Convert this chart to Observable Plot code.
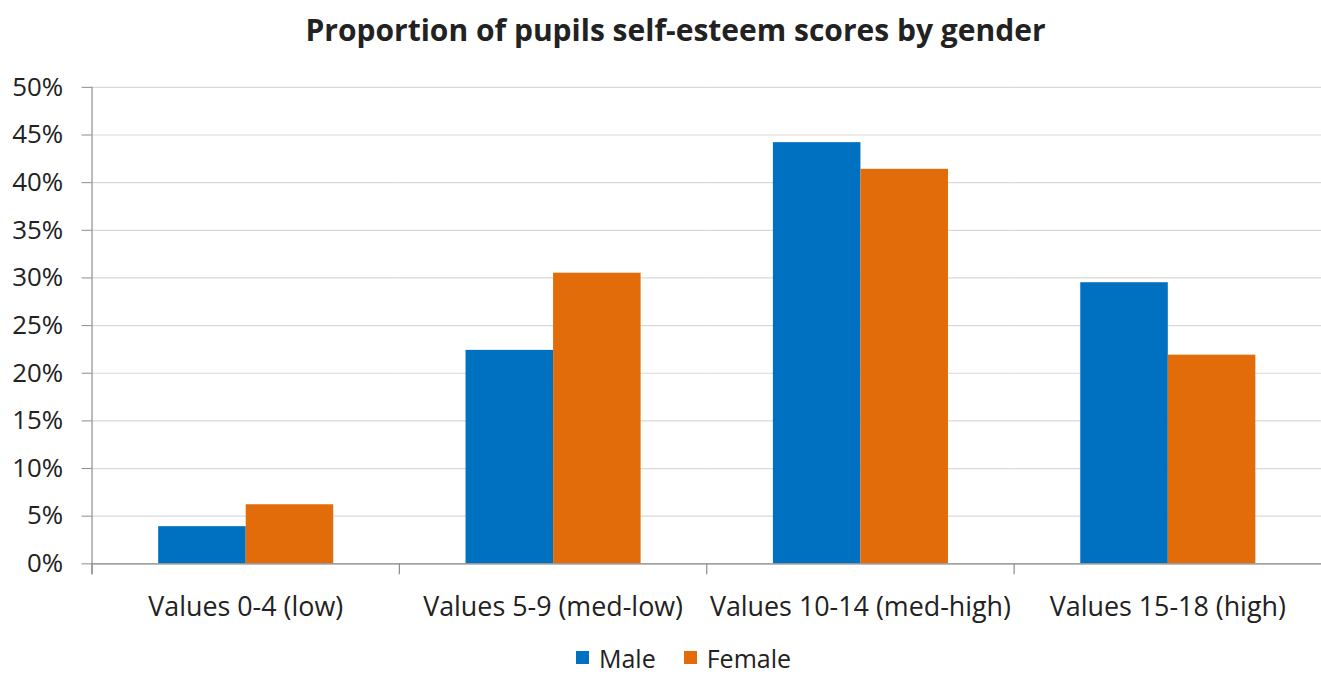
<!DOCTYPE html>
<html>
<head>
<meta charset="utf-8">
<script src="https://cdn.jsdelivr.net/npm/d3@7"></script>
<script src="https://cdn.jsdelivr.net/npm/@observablehq/plot@0.6"></script>
<style>
  html, body { margin: 0; padding: 0; background: #fff; overflow: hidden; width: 1321px; height: 678px; }
  body { font-family: "Open Sans", sans-serif; color: #222; }
  #title { height: 62px; line-height: 60px; text-align: center; font-weight: 700; font-size: 30px; padding-left: 30px; box-sizing: border-box; width: 1321px; white-space: nowrap; }
  #chart svg { display: block; }
  #legend { display: flex; justify-content: center; align-items: center; margin-top: 19px; height: 20px; line-height: 20px; font-size: 25px; padding-left: 46px; width: 1321px; box-sizing: border-box; }
  #legend .item { display: flex; align-items: center; margin: 0 14px; }
  #legend .swatch { width: 13px; height: 13px; margin-right: 10px; }
</style>
</head>
<body>
<div id="title">Proportion of pupils self-esteem scores by gender</div>
<div id="chart"></div>
<div id="legend"></div>
<script>
// Score bands and the share of pupils in each, by gender (percent)
const categories = ["Values 0-4 (low)", "Values 5-9 (med-low)", "Values 10-14 (med-high)", "Values 15-18 (high)"];
const genders = ["Male", "Female"];
const maleValues = [3.9, 22.4, 44.2, 29.5];
const femaleValues = [6.2, 30.5, 41.4, 21.9];
const yTicks = [0, 5, 10, 15, 20, 25, 30, 35, 40, 45, 50];
const genderColors = ["#0070C0", "#E36C0A"];

const rows = categories.flatMap((category, i) => [
  {category, gender: "Male", value: maleValues[i]},
  {category, gender: "Female", value: femaleValues[i]}
]);

const axisColor = "#8c8c8c";
const height = 570, marginTop = 25, marginBottom = 66;

const chart = Plot.plot({
  width: 1328,
  height,
  marginLeft: 92,
  marginRight: 0,
  marginTop,
  marginBottom,
  style: {fontFamily: "'Open Sans', sans-serif", color: "#222", background: "transparent"},
  fx: {domain: categories, padding: 0, label: null},
  x: {domain: genders, paddingInner: 0, paddingOuter: 0.746, axis: null},
  y: {domain: [0, 50], axis: null, label: null},
  color: {domain: genders, range: genderColors},
  marks: [
    Plot.gridY(yTicks, {stroke: "#d9d9d9", strokeOpacity: 1, strokeWidth: 1.2}),
    Plot.barY(rows, {fx: "category", x: "gender", y: "value", fill: "gender"}),
    Plot.ruleY([0], {stroke: axisColor, strokeWidth: 1.2}),
    // category separators below the baseline
    Plot.frame({anchor: "left", stroke: axisColor, strokeWidth: 1.2, insetTop: height - marginTop - marginBottom, insetBottom: -10}),
    // vertical value axis line
    Plot.frame({anchor: "left", stroke: axisColor, strokeWidth: 1.2, insetBottom: -10, facetAnchor: "left"}),
    Plot.axisY(yTicks, {
      label: null,
      tickFormat: d => d + "%",
      tickSize: 10,
      tickPadding: 19,
      stroke: axisColor,
      fontSize: 26,
      fill: "#222"
    }),
    Plot.axisFx({anchor: "bottom", tickSize: 0, tickPadding: 33, fontSize: 27, label: null, fill: "#222"})
  ]
});
document.getElementById("chart").appendChild(chart);

// Legend
const legend = document.getElementById("legend");
genders.forEach((g, i) => {
  const item = document.createElement("div");
  item.className = "item";
  const sw = document.createElement("span");
  sw.className = "swatch";
  sw.style.background = genderColors[i];
  const label = document.createElement("span");
  label.textContent = g;
  item.append(sw, label);
  legend.appendChild(item);
});
</script>
</body>
</html>
